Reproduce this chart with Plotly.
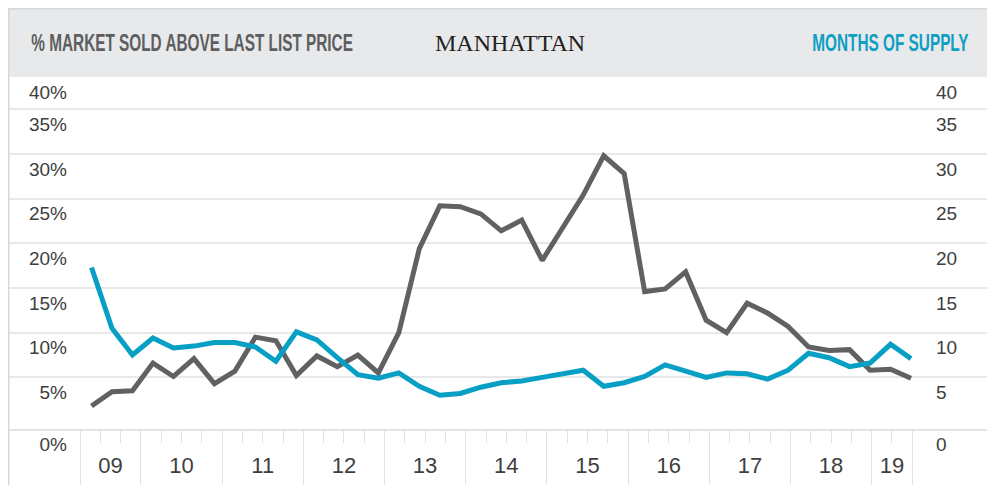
import plotly.graph_objects as go

# ---------------- data ----------------
quarters = ["2009 Q2", "2009 Q3", "2009 Q4",
            "2010 Q1", "2010 Q2", "2010 Q3", "2010 Q4",
            "2011 Q1", "2011 Q2", "2011 Q3", "2011 Q4",
            "2012 Q1", "2012 Q2", "2012 Q3", "2012 Q4",
            "2013 Q1", "2013 Q2", "2013 Q3", "2013 Q4",
            "2014 Q1", "2014 Q2", "2014 Q3", "2014 Q4",
            "2015 Q1", "2015 Q2", "2015 Q3", "2015 Q4",
            "2016 Q1", "2016 Q2", "2016 Q3", "2016 Q4",
            "2017 Q1", "2017 Q2", "2017 Q3", "2017 Q4",
            "2018 Q1", "2018 Q2", "2018 Q3", "2018 Q4",
            "2019 Q1", "2019 Q2"]

pct_above_list = [1.8, 3.4, 3.5, 6.6, 5.1, 7.1, 4.3, 5.7, 9.5, 9.1, 5.2,
                  7.4, 6.2, 7.5, 5.5, 10.0, 19.4, 24.2, 24.1, 23.3, 21.4,
                  22.6, 18.1, 21.8, 25.4, 29.8, 27.8, 14.6, 14.9, 16.8, 11.4,
                  10.0, 13.3, 12.2, 10.7, 8.4, 8.0, 8.1, 5.8, 5.9, 4.9]

months_supply = [17.3, 10.5, 7.5, 9.4, 8.3, 8.5, 8.9, 8.9, 8.4, 6.8, 10.1,
                 9.2, 7.2, 5.3, 4.9, 5.5, 4.0, 3.0, 3.2, 3.9, 4.4,
                 4.6, 5.0, 5.4, 5.8, 4.0, 4.4, 5.1, 6.4, 5.7, 5.0,
                 5.5, 5.4, 4.8, 5.8, 7.7, 7.2, 6.2, 6.6, 8.7, 7.1]

year_labels = ["09", "10", "11", "12", "13", "14", "15", "16", "17", "18", "19"]
quarters_per_year = [3, 4, 4, 4, 4, 4, 4, 4, 4, 4, 2]

left_tick_text = ["0%", "5%", "10%", "15%", "20%", "25%", "30%", "35%", "40%"]
right_tick_text = ["0", "5", "10", "15", "20", "25", "30", "35", "40"]
grid_values = [5, 10, 15, 20, 25, 30, 35]

# ---------------- layout geometry (page pixels) ----------------
OFF = 8                      # the page body places the figure 8px in from the corner
W, H = 995 - OFF, 485 - OFF  # figure size
PLOT_L, PLOT_R, PLOT_T, PLOT_B = 8, 990, 77, 429   # plot area, page px
ML, MR = PLOT_L - OFF, W - (PLOT_R - OFF)
MT, MB = PLOT_T - OFF, H - (PLOT_B - OFF)
PW, PH = PLOT_R - PLOT_L, PLOT_B - PLOT_T

def px_x(px):
    return (px - PLOT_L) / PW

def px_y(py):
    return (PLOT_B - py) / PH

Y_RANGE = [-0.78, 38.62]
X_RANGE = [-4.076, 43.856]          # data axis (one unit per quarter)
BAND_RANGE = [-3.547, 44.828]       # tick band axis (one unit per quarter slot)

GRAY = "#606163"
BLUE = "#079fc4"
GRID = "#e8e8e8"
BAND = "#e2e2e2"
TICKFONT = dict(family="Liberation Sans, Arial, sans-serif", size=19, color="#3e3e3e")
HEADFONT = "Liberation Sans, Arial, sans-serif"

idx = list(range(len(quarters)))

fig = go.Figure()
fig.add_trace(go.Scatter(x=idx, y=months_supply, mode="lines", name="Months of Supply",
                         line=dict(color=BLUE, width=5), yaxis="y2", xaxis="x",
                         hoverinfo="skip"))
fig.add_trace(go.Scatter(x=idx, y=pct_above_list, mode="lines", name="% Sold Above Last List",
                         line=dict(color=GRAY, width=5), yaxis="y", xaxis="x",
                         hoverinfo="skip"))
# empty traces so the year-band axes get drawn
fig.add_trace(go.Scatter(x=[], y=[], xaxis="x2", yaxis="y", showlegend=False, hoverinfo="skip"))
fig.add_trace(go.Scatter(x=[], y=[], xaxis="x3", yaxis="y", showlegend=False, hoverinfo="skip"))

# y tick positions: labels sit under their lines; 0 and 40 belong to the frame edges
lo, hi = Y_RANGE[0] + 0.001, Y_RANGE[1] - 0.001
ytickvals = [lo] + grid_values + [hi]

# band (x) ticks
bounds = [0]
for q in quarters_per_year:
    bounds.append(bounds[-1] + q)
centers = [(bounds[i] + bounds[i + 1]) / 2 for i in range(len(year_labels))]
slot_bounds = list(range(bounds[-1] + 1))

fig.update_layout(
    width=W, height=H,
    margin=dict(l=ML, r=MR, t=MT, b=MB, autoexpand=False),
    paper_bgcolor="white", plot_bgcolor="white",
    showlegend=False,
    xaxis=dict(range=X_RANGE, visible=False, fixedrange=True),
    xaxis2=dict(range=BAND_RANGE, overlaying="x", anchor="y", side="bottom",
                tickmode="array", tickvals=bounds, showticklabels=False,
                ticks="outside", ticklen=60, tickcolor=BAND, tickwidth=1,
                showline=True, linecolor=BAND, linewidth=1.5,
                showgrid=False, zeroline=False, fixedrange=True,
                minor=dict(tickmode="array", tickvals=slot_bounds, ticks="outside",
                           ticklen=12, tickcolor=BAND, tickwidth=1, showgrid=False)),
    xaxis3=dict(range=BAND_RANGE, overlaying="x", anchor="y", side="bottom",
                tickmode="array", tickvals=centers, ticktext=year_labels,
                ticks="", ticklabelstandoff=21, showline=False, showgrid=False,
                zeroline=False, fixedrange=True, tickfont=dict(TICKFONT, size=22)),
    yaxis=dict(range=Y_RANGE, anchor="free", position=px_x(67), side="left",
               tickmode="array", tickvals=ytickvals, ticktext=left_tick_text,
               ticks="", ticklabelshift=15, showgrid=True, gridcolor=GRID, gridwidth=1.5,
               zeroline=False, showline=False, tickfont=TICKFONT, fixedrange=True),
    yaxis2=dict(range=Y_RANGE, anchor="free", position=px_x(935), side="right",
                overlaying="y", tickmode="array", tickvals=ytickvals,
                ticktext=right_tick_text, ticks="", ticklabelshift=15,
                showgrid=False, zeroline=False, showline=False, tickfont=TICKFONT,
                fixedrange=True),
)

# header band and frame
fig.add_shape(type="rect", xref="paper", yref="paper", x0=0, x1=1,
              y0=px_y(77), y1=px_y(OFF), fillcolor="#e8e9eb", line=dict(width=0),
              layer="below")
fig.add_shape(type="rect", xref="paper", yref="paper", x0=px_x(8.7), x1=px_x(990),
              y0=px_y(500), y1=px_y(OFF + 0.7), fillcolor="rgba(0,0,0,0)",
              line=dict(color="#d6d7d9", width=1.5), layer="above")

fig.add_annotation(text="% MARKET SOLD ABOVE LAST LIST PRICE", xref="paper", yref="paper",
                   x=px_x(29), y=px_y(42), xanchor="left", yanchor="middle", showarrow=False,
                   font=dict(family=HEADFONT, size=24, color="#5d5e60", weight="bold"))
fig.add_annotation(text="MANHATTAN", xref="paper", yref="paper",
                   x=px_x(510), y=px_y(43), xanchor="center", yanchor="middle", showarrow=False,
                   font=dict(family="Liberation Serif, Times New Roman, serif", size=24, color="#222222"))
fig.add_annotation(text="MONTHS OF SUPPLY", xref="paper", yref="paper",
                   x=px_x(970), y=px_y(42), xanchor="right", yanchor="middle", showarrow=False,
                   font=dict(family=HEADFONT, size=24, color="#0f9fc4", weight="bold"))

# the reference header uses a condensed face: narrow the two header labels (still real text)
post = """
var gd = document.getElementById('{plot_id}');
if (gd) {
  gd.querySelectorAll('.annotation-text').forEach(function (t) {
    var s = t.textContent || '';
    var origin = null;
    if (s.indexOf('% MARKET') === 0) { origin = 'left center'; }
    else if (s.indexOf('MONTHS OF SUPPLY') === 0) { origin = 'right center'; }
    if (origin) {
      t.style.transformBox = 'fill-box';
      t.style.transformOrigin = origin;
      t.style.transform = 'scaleX(0.64)';
    }
  });
}
"""

fig.write_html("out.html", config={"displayModeBar": False}, post_script=post)
